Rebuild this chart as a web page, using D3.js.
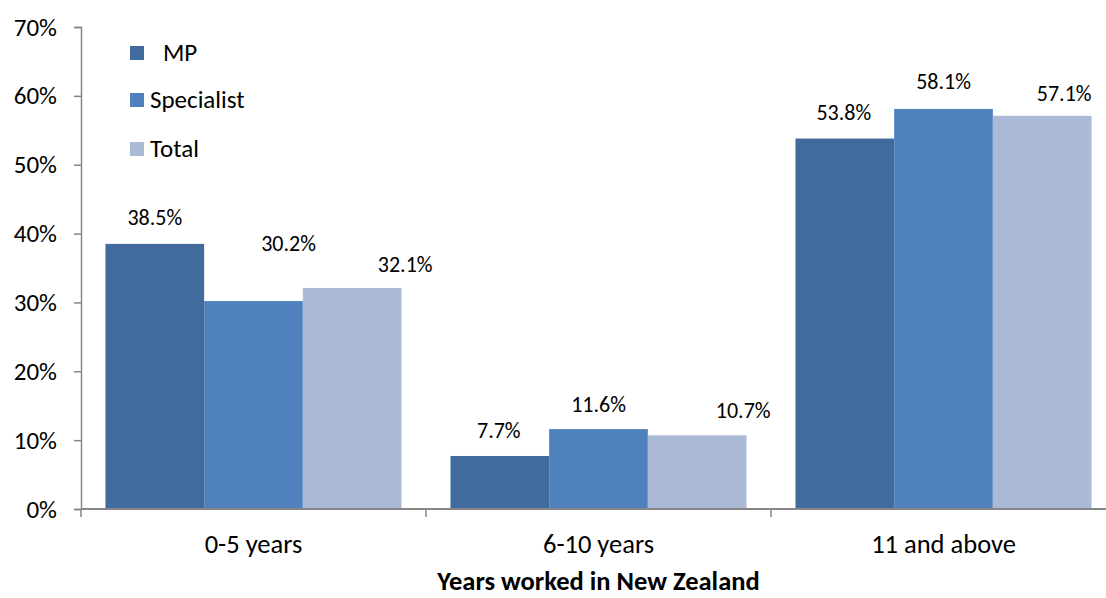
<!DOCTYPE html>
<html>
<head>
<meta charset="utf-8">
<script src="https://cdn.jsdelivr.net/npm/d3@7"></script>
<style>
  html, body { margin: 0; padding: 0; background: #fff; }
  svg { display: block; font-family: Carlito, Calibri, Lato, "Open Sans", sans-serif; }
</style>
</head>
<body>
<svg id="chart" width="1106" height="598"></svg>
<script>
// ---- data ----
const categories = ["0-5 years", "6-10 years", "11 and above"];
const seriesNames = ["MP", "Specialist", "Total"];
const mpValues = [38.5, 7.7, 53.8];
const specialistValues = [30.2, 11.6, 58.1];
const totalValues = [32.1, 10.7, 57.1];
const yTicks = [0, 10, 20, 30, 40, 50, 60, 70];
const xTitle = "Years worked in New Zealand";

// ---- styles ----
const colors = ["#416B9C", "#4F81BD", "#AABAD7"];
// label offsets (dx, dy) relative to bar top-center, per series per category
const labelOffsets = [
  [[0, -19], [-1, -18], [-1, -18.5]],
  [[35, -50], [0, -17], [0, -20]],
  [[53, -16], [46, -17], [22, -15]]
];

const seriesValues = [mpValues, specialistValues, totalValues];
const svg = d3.select("#chart");
const mLeft = 81, mRight = 1116, mTop = 27, mBottom = 509;
const axisColor = "#868686";
const fontFam = "Carlito, Calibri, Lato, sans-serif";

const x0 = d3.scaleBand().domain(categories).range([mLeft, mRight]).padding(0);
const x1 = d3.scaleBand().domain(seriesNames).range([0, x0.bandwidth()]).paddingInner(0).paddingOuter(0.248);
const y = d3.scaleLinear().domain([0, 70]).range([mBottom, mTop]);

// bars
seriesNames.forEach((s, si) => {
  const g = svg.append("g");
  g.selectAll("rect").data(seriesValues[si]).enter().append("rect")
    .attr("x", (d, ci) => x0(categories[ci]) + x1(s))
    .attr("y", d => y(d))
    .attr("width", x1.bandwidth())
    .attr("height", d => y(0) - y(d))
    .attr("fill", colors[si]);
  g.selectAll("text").data(seriesValues[si]).enter().append("text")
    .attr("x", (d, ci) => x0(categories[ci]) + x1(s) + x1.bandwidth() / 2 + labelOffsets[si][ci][0])
    .attr("y", (d, ci) => y(d) + labelOffsets[si][ci][1])
    .attr("text-anchor", "middle")
    .attr("font-size", 22)
    .attr("fill", "#000")
    .text(d => d.toFixed(1) + "%");
});

// y axis
const yAxis = d3.axisLeft(y).tickValues(yTicks).tickSize(7).tickPadding(17)
  .tickFormat(d => d + "%");
const yg = svg.append("g").attr("transform", `translate(${mLeft},0)`).call(yAxis);
yg.select(".domain").attr("stroke", axisColor).attr("stroke-width", 1.5);
yg.selectAll(".tick line").attr("stroke", axisColor).attr("stroke-width", 1.5);
yg.selectAll(".tick text").attr("font-size", 25).attr("fill", "#000")
  .attr("font-family", fontFam);

// x axis
const xAxis = d3.axisBottom(x0).tickSize(0).tickPadding(25);
const xg = svg.append("g").attr("transform", `translate(0,${mBottom})`).call(xAxis);
xg.select(".domain").remove();
xg.append("line").attr("x1", mLeft).attr("x2", mRight).attr("y1", 0).attr("y2", 0)
  .attr("stroke", axisColor).attr("stroke-width", 2);
xg.selectAll(".tick text").attr("font-size", 26.5).attr("fill", "#000")
  .attr("font-family", fontFam);
// category boundary ticks
const boundaries = categories.map(c => x0(c)).concat([mRight]);
xg.selectAll(".bnd").data(boundaries).enter().append("line")
  .attr("x1", d => d).attr("x2", d => d).attr("y1", 0).attr("y2", 8)
  .attr("stroke", axisColor).attr("stroke-width", 1.5);

// x title
svg.append("text")
  .attr("x", (mLeft + mRight) / 2)
  .attr("y", 590)
  .attr("text-anchor", "middle")
  .attr("font-size", 26.5)
  .attr("font-weight", "bold")
  .attr("fill", "#000")
  .text(xTitle);

// legend
const legend = svg.append("g");
const legendY = [53, 100, 149];
const legendTextX = [163, 150, 150];
seriesNames.forEach((s, i) => {
  legend.append("rect").attr("x", 130).attr("y", legendY[i] - 7).attr("width", 14).attr("height", 14)
    .attr("fill", colors[i]);
  legend.append("text").attr("x", legendTextX[i]).attr("y", legendY[i] + 8)
    .attr("font-size", 25).attr("fill", "#000").text(s);
});
</script>
</body>
</html>
